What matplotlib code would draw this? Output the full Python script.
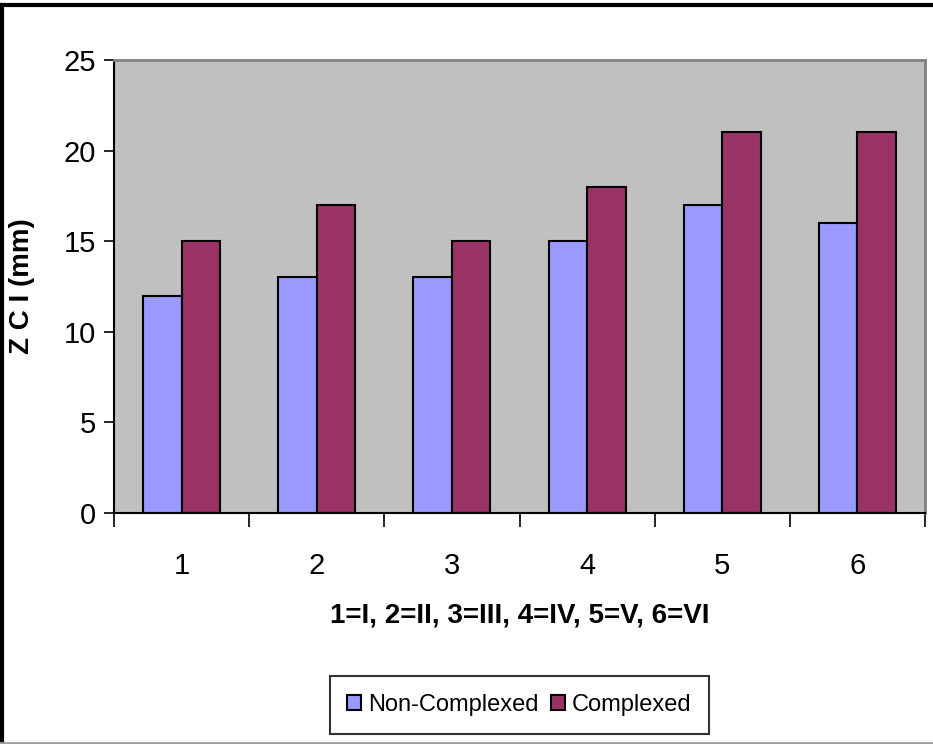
import matplotlib
matplotlib.use("Agg")
import matplotlib.pyplot as plt
import numpy as np

# data
categories = ["1", "2", "3", "4", "5", "6"]
non_complexed = [12, 13, 13, 15, 17, 16]
complexed = [15, 17, 15, 18, 21, 21]
series_names = ["Non-Complexed", "Complexed"]
y_ticks = [0, 5, 10, 15, 20, 25]

plt.rcParams['font.family'] = ["Liberation Sans", "DejaVu Sans"]

fig = plt.figure(figsize=(9.33, 7.44), dpi=100)
ax = fig.add_axes([114 / 933, 1 - 513 / 744, (925 - 114) / 933, (513 - 60) / 744])
ax.set_facecolor("#C0C0C0")

x = np.arange(len(categories))
w = 0.285
ax.bar(x - w / 2, non_complexed, w, color="#9999FF", edgecolor="black", linewidth=1.5,
       label=series_names[0])
ax.bar(x + w / 2, complexed, w, color="#993366", edgecolor="black", linewidth=1.5,
       label=series_names[1])

ax.set_xlim(-0.5, len(categories) - 0.5)
ax.set_ylim(0, 25)
ax.set_yticks(y_ticks)
ax.set_yticklabels([str(v) for v in y_ticks], fontsize=21)
ax.tick_params(axis="y", direction="out", length=7, width=1.2, pad=6)

# ticks at category borders, labels in the middle
ax.set_xticks(np.arange(-0.5, len(categories)), minor=False)
ax.set_xticklabels([])
ax.tick_params(axis="x", which="major", direction="out", length=10, width=1.2)
ax.set_xticks(x, minor=True)
ax.set_xticklabels(categories, minor=True, fontsize=21)
ax.tick_params(axis="x", which="minor", length=0, pad=28)

for s in ["top", "right"]:
    ax.spines[s].set_color("#808080")
    ax.spines[s].set_linewidth(2)
for s in ["left", "bottom"]:
    ax.spines[s].set_color("black")
    ax.spines[s].set_linewidth(1.5)

ax.set_xlabel("1=I, 2=II, 3=III, 4=IV, 5=V, 6=VI", fontsize=20, fontweight="bold",
              labelpad=16)
ax.set_ylabel("Z C I (mm)", fontsize=20, fontweight="bold")
ax.yaxis.set_label_coords(-0.097, 0.5)

leg = ax.legend(loc="center", bbox_to_anchor=(0.5, -0.424), ncol=2, fontsize=17,
                frameon=True, fancybox=False, edgecolor="black", borderpad=0.75,
                handlelength=0.6, handleheight=0.6, handletextpad=0.3, columnspacing=0.5)
leg.get_frame().set_linewidth(1.5)

# outer chart frame
fig.add_artist(plt.Line2D([0, 1], [1 - 5 / 744, 1 - 5 / 744], color="black", lw=3))
fig.add_artist(plt.Line2D([2 / 933, 2 / 933], [0, 1 - 5 / 744], color="black", lw=3))
fig.add_artist(plt.Line2D([0, 1], [1 / 744, 1 / 744], color="#A0A0A0", lw=2))

fig.savefig("out.png", dpi=100)
